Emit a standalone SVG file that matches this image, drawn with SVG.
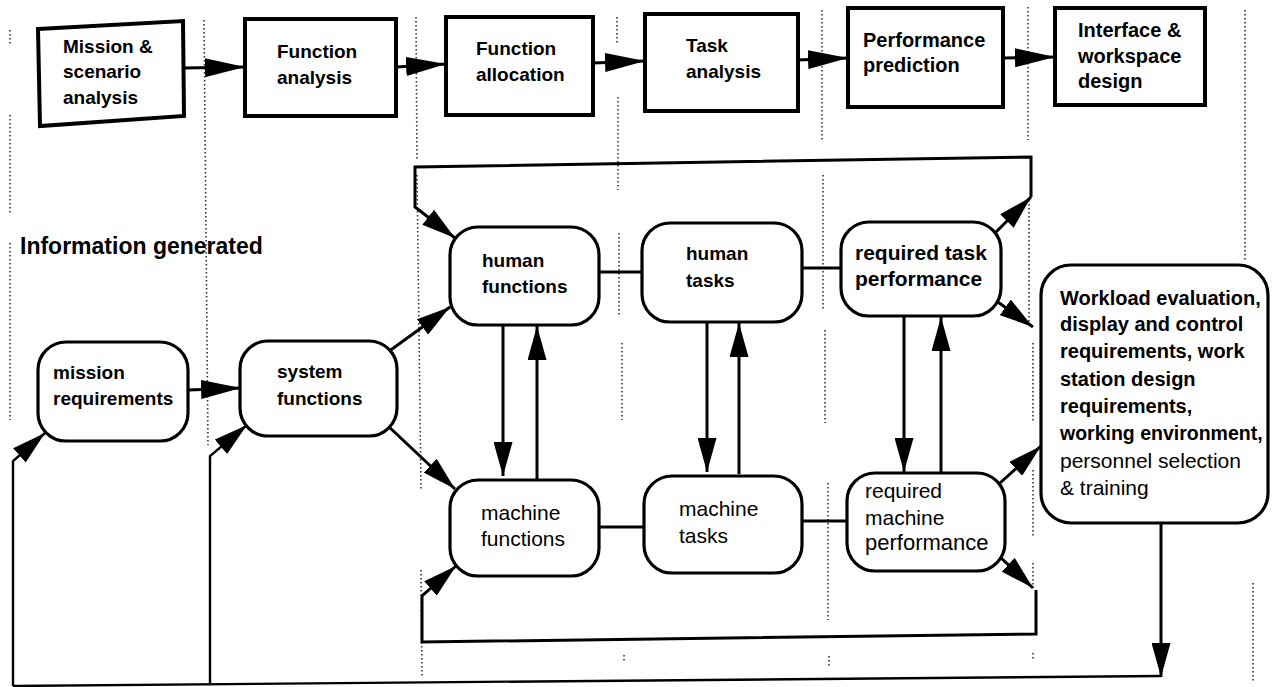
<svg xmlns="http://www.w3.org/2000/svg" width="1272" height="687" viewBox="0 0 1272 687">
<defs>
<style>
.box{fill:#fff;stroke:#000;stroke-width:4}
.node{fill:#fff;stroke:#000;stroke-width:3.2}
.ln{fill:none;stroke:#000;stroke-width:3}
.thin{fill:none;stroke:#000;stroke-width:2.4}
.dot{fill:none;stroke:#333;stroke-width:1.6;stroke-dasharray:1.5 2.5}
.t{font-family:"Liberation Sans",Arial,Helvetica,sans-serif;font-size:19px;font-weight:bold;fill:#000}
.r{font-family:"Liberation Sans",Arial,Helvetica,sans-serif;font-size:21px;font-weight:normal;fill:#000}
</style>
<marker id="ah" markerUnits="userSpaceOnUse" viewBox="0 0 34 19" refX="34" refY="9.5" markerWidth="34" markerHeight="19" orient="auto"><path d="M0,0 L34,9.5 L0,19 z" fill="#000"/></marker>
<marker id="ahL" markerUnits="userSpaceOnUse" viewBox="0 0 40 19" refX="40" refY="9.5" markerWidth="40" markerHeight="19" orient="auto"><path d="M0,0 L40,9.5 L0,19 z" fill="#000"/></marker>
</defs>
<rect width="1272" height="687" fill="#fff"/>
<g id="gridlines">
<path class="dot" d="M10,30 V45 M10,115 V215 M10,243 V420"/>
<path class="dot" d="M204,20 L208,445"/>
<path class="dot" d="M416,17 L417,160 M417,175 L421,490 M421,570 L422,676"/>
<path class="dot" d="M617,17 V43 M618,97 V190 M619,233 V317 M622,343 V420 M624,655 V662"/>
<path class="dot" d="M822,10 V140 M823,175 V310 M825,330 V423 M828,483 V620 M829,656 V666"/>
<path class="dot" d="M1028,7 V140 M1029,200 V325 M1033,343 V423 M1033,470 V537 M1033,563 V588 M1033,653 V660"/>
<path class="dot" d="M1245,10 V260 M1253,583 V683"/>
</g>
<g id="connectors">
<path class="ln" d="M184,68 L245,67" marker-end="url(#ahL)"/>
<path class="ln" d="M396,67 L446,64" marker-end="url(#ahL)"/>
<path class="ln" d="M593,63 L645,61" marker-end="url(#ahL)"/>
<path class="ln" d="M798,60 L848,58" marker-end="url(#ahL)"/>
<path class="ln" d="M1003,58 L1055,57" marker-end="url(#ahL)"/>
<path class="ln" d="M188,390 L241,388" marker-end="url(#ahL)"/>
<path class="ln" d="M388,352 L450,307" marker-end="url(#ah)"/>
<path class="ln" d="M388,426 L455,489" marker-end="url(#ah)"/>
<path class="ln" d="M599,272 H642"/>
<path class="ln" d="M802,268 H841"/>
<path class="ln" d="M599,527 H644"/>
<path class="ln" d="M802,521 H847"/>
<path class="ln" d="M503,325 V476" marker-end="url(#ah)"/>
<path class="ln" d="M537,479 V326" marker-end="url(#ah)"/>
<path class="ln" d="M707,322 V472" marker-end="url(#ah)"/>
<path class="ln" d="M739,474 V323" marker-end="url(#ah)"/>
<path class="ln" d="M904,316 V472" marker-end="url(#ah)"/>
<path class="ln" d="M941,474 V317" marker-end="url(#ah)"/>
<path class="ln" d="M995,233 L1031,197" marker-end="url(#ah)"/>
<path class="ln" d="M1031,197 V157 L415,167 V207 L455,238" marker-end="url(#ah)"/>
<path class="ln" d="M995,300 L1033,327" marker-end="url(#ah)"/>
<path class="ln" d="M1000,483 L1041,446" marker-end="url(#ah)"/>
<path class="ln" d="M1000,557 L1033,588" marker-end="url(#ah)"/>
<path class="ln" d="M1036,590 V634 L422,642 V596 L456,566" marker-end="url(#ah)"/>
<path class="ln" d="M1161,523 V677" marker-end="url(#ah)"/>
<path class="thin" d="M1161,676 L13,686"/>
<path class="thin" d="M13,686 V461 L45,433" marker-end="url(#ah)"/>
<path class="thin" d="M210,685 V456 L247,425" marker-end="url(#ah)"/>
</g>
<g id="box-mission-scenario">
<path class="box" d="M38,29 L183,21 L184,116 L40,126 Z"/>
<text class="t" x="63" y="53">Mission &amp;</text>
<text class="t" x="63" y="78">scenario</text>
<text class="t" x="63" y="104">analysis</text>
</g>
<g id="box-function-analysis">
<rect class="box" x="245" y="19" width="151" height="97"/>
<text class="t" x="277" y="58">Function</text>
<text class="t" x="277" y="84">analysis</text>
</g>
<g id="box-function-allocation">
<rect class="box" x="446" y="17" width="147" height="98"/>
<text class="t" x="476" y="55">Function</text>
<text class="t" x="476" y="81">allocation</text>
</g>
<g id="box-task-analysis">
<rect class="box" x="645" y="14" width="153" height="97"/>
<text class="t" x="686" y="52">Task</text>
<text class="t" x="686" y="78">analysis</text>
</g>
<g id="box-performance-prediction">
<rect class="box" x="848" y="8" width="155" height="99"/>
<text class="t" x="863" y="47" style="font-size:20px">Performance</text>
<text class="t" x="863" y="72" style="font-size:20px">prediction</text>
</g>
<g id="box-interface-design">
<rect class="box" x="1055" y="8" width="150" height="97"/>
<text class="t" x="1078" y="37" style="font-size:20px">Interface &amp;</text>
<text class="t" x="1078" y="63" style="font-size:20px">workspace</text>
<text class="t" x="1078" y="88" style="font-size:20px">design</text>
</g>
<g id="label-information">
<text class="t" x="20" y="254" style="font-size:23px">Information generated</text>
</g>
<g id="node-mission-requirements">
<rect class="node" x="38" y="342" width="150" height="99" rx="28"/>
<text class="t" x="53" y="379">mission</text>
<text class="t" x="53" y="405">requirements</text>
</g>
<g id="node-system-functions">
<rect class="node" x="240" y="341" width="157" height="95" rx="28"/>
<text class="t" x="277" y="378">system</text>
<text class="t" x="277" y="405">functions</text>
</g>
<g id="node-human-functions">
<rect class="node" x="450" y="227" width="149" height="98" rx="28"/>
<text class="t" x="482" y="267">human</text>
<text class="t" x="482" y="293">functions</text>
</g>
<g id="node-human-tasks">
<rect class="node" x="642" y="223" width="160" height="99" rx="28"/>
<text class="t" x="686" y="260">human</text>
<text class="t" x="686" y="287">tasks</text>
</g>
<g id="node-required-task-performance">
<rect class="node" x="841" y="222" width="160" height="94" rx="28"/>
<text class="t" x="855" y="260" style="font-size:21px">required task</text>
<text class="t" x="855" y="286" style="font-size:21px">performance</text>
</g>
<g id="node-machine-functions">
<rect class="node" x="450" y="480" width="149" height="96" rx="28"/>
<text class="r" x="481" y="520">machine</text>
<text class="r" x="481" y="546">functions</text>
</g>
<g id="node-machine-tasks">
<rect class="node" x="644" y="476" width="158" height="97" rx="28"/>
<text class="r" x="679" y="516">machine</text>
<text class="r" x="679" y="543">tasks</text>
</g>
<g id="node-required-machine-performance">
<rect class="node" x="847" y="473" width="158" height="98" rx="28"/>
<text class="r" x="865" y="498">required</text>
<text class="r" x="865" y="525">machine</text>
<text class="r" x="865" y="550" style="font-size:22px">performance</text>
</g>
<g id="node-workload-evaluation">
<rect class="node" x="1041" y="265" width="227" height="258" rx="30"/>
<text class="t" x="1060" y="305" style="font-size:20px">Workload evaluation,</text>
<text class="t" x="1060" y="331" style="font-size:20px">display and control</text>
<text class="t" x="1060" y="358" style="font-size:20px">requirements, work</text>
<text class="t" x="1060" y="386" style="font-size:20px">station design</text>
<text class="t" x="1060" y="413" style="font-size:20px">requirements,</text>
<text class="t" x="1060" y="440" style="font-size:19.5px">working environment,</text>
<text class="r" x="1060" y="468">personnel selection</text>
<text class="r" x="1060" y="495">&amp; training</text>
</g>
</svg>
